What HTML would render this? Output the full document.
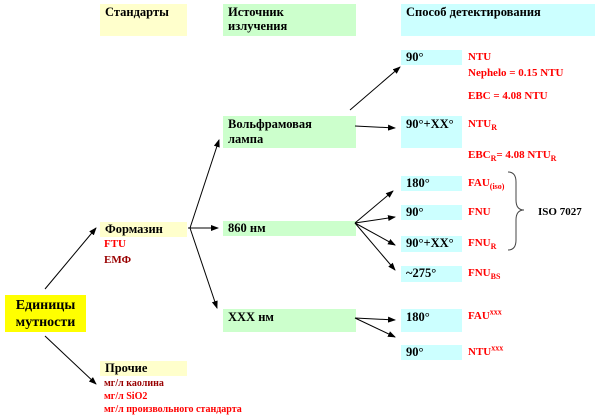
<!DOCTYPE html>
<html><head><meta charset="utf-8"><style>
*{font-family:"Liberation Serif","DejaVu Serif",serif;}
body{margin:0;width:600px;height:420px;background:#fff;position:relative;overflow:hidden;font-weight:bold;}
.b{position:absolute;box-sizing:border-box;padding:1px 5px;font-size:12.5px;color:#000;line-height:15px;white-space:nowrap}
.y{background:#ffffcc}.g{background:#ccffcc}.c{background:#ccffff}
.t{position:absolute;font-size:11px;color:#ff0000;line-height:13px;white-space:nowrap}
.d{color:#990000}
sub,sup{font-size:8px;line-height:0}
svg{position:absolute;left:0;top:0}
</style></head><body>
<div class="b y" style="left:100px;top:4px;width:87px;height:32px">Стандарты</div>
<div class="b g" style="left:223px;top:4px;width:133px;height:32px;line-height:14px">Источник<br>излучения</div>
<div class="b c" style="left:401px;top:4px;width:194px;height:32px">Способ детектирования</div>

<div class="b c" style="left:401px;top:50px;width:61px;height:15px;padding-top:0">90°</div>
<div class="t" style="left:468px;top:51px">NTU</div>
<div class="t" style="left:468px;top:67px">Nephelo = 0.15 NTU</div>
<div class="t" style="left:468px;top:90px">EBC = 4.08 NTU</div>

<div class="b g" style="left:223px;top:116px;width:133px;height:32px;line-height:15px">Вольфрамовая<br>лампа</div>
<div class="b c" style="left:401px;top:116px;width:61px;height:32px">90°+XX°</div>
<div class="t" style="left:468px;top:118px">NTU<sub>R</sub></div>
<div class="t" style="left:468px;top:149px">EBC<sub>R</sub>= 4.08 NTU<sub>R</sub></div>

<div class="b c" style="left:401px;top:176px;width:61px;height:15px;padding-top:0">180°</div>
<div class="t" style="left:468px;top:177px">FAU<sub>(iso)</sub></div>
<div class="b c" style="left:401px;top:205px;width:61px;height:15px;padding-top:0">90°</div>
<div class="t" style="left:468px;top:206px">FNU</div>
<div class="b c" style="left:401px;top:236px;width:61px;height:16px;padding-top:0">90°+XX°</div>
<div class="t" style="left:468px;top:237px">FNU<sub>R</sub></div>
<div class="b c" style="left:401px;top:266px;width:61px;height:16px;padding-top:0">~275°</div>
<div class="t" style="left:468px;top:267px">FNU<sub>BS</sub></div>
<div class="t" style="left:538px;top:206px;color:#000">ISO 7027</div>

<div class="b g" style="left:223px;top:221px;width:133px;height:15px;padding-top:0">860 нм</div>
<div class="b g" style="left:223px;top:309px;width:133px;height:23px">XXX нм</div>
<div class="b c" style="left:401px;top:309px;width:61px;height:23px">180°</div>
<div class="t" style="left:468px;top:310px">FAU<sup>xxx</sup></div>
<div class="b c" style="left:401px;top:345px;width:61px;height:15px;padding-top:0">90°</div>
<div class="t" style="left:468px;top:346px">NTU<sup>xxx</sup></div>

<div class="b y" style="left:100px;top:222px;width:87px;height:15px;padding-top:0">Формазин</div>
<div class="t" style="left:104px;top:238px">FTU</div>
<div class="t d" style="left:104px;top:254px">ЕМФ</div>

<div class="b" style="left:5px;top:295px;width:81px;height:37px;background:#ffff00;font-size:14px;line-height:17px;text-align:center;padding:2px 0">Единицы<br>мутности</div>

<div class="b y" style="left:100px;top:361px;width:87px;height:15px;padding-top:0">Прочие</div>
<div class="t d" style="left:104px;top:377px;font-size:10px">мг/л каолина</div>
<div class="t" style="left:104px;top:390px;font-size:10px">мг/л SiO2</div>
<div class="t" style="left:104px;top:403px;font-size:10px">мг/л произвольного стандарта</div>

<svg width="600" height="420">
<defs><marker id="a" markerWidth="8" markerHeight="6" refX="7" refY="3" orient="auto" markerUnits="userSpaceOnUse"><path d="M0,0L8,3L0,6z" fill="#000"/></marker></defs>
<g stroke="#000" stroke-width="1" fill="none" marker-end="url(#a)">
<line x1="45" y1="289" x2="96" y2="228"/>
<line x1="45" y1="336" x2="96" y2="384"/>
<line x1="188" y1="228" x2="218" y2="228"/>
<line x1="190" y1="228" x2="219" y2="140"/>
<line x1="190" y1="228" x2="217" y2="308"/>
<line x1="350" y1="110" x2="400" y2="67"/>
<line x1="355" y1="126" x2="395" y2="128"/>
<line x1="355" y1="223" x2="393" y2="191"/>
<line x1="355" y1="223" x2="395" y2="217"/>
<line x1="355" y1="223" x2="395" y2="245"/>
<line x1="355" y1="223" x2="395" y2="270"/>
<line x1="355" y1="318" x2="395" y2="320"/>
<line x1="355" y1="318" x2="395" y2="337"/>
</g>
<path d="M508,172 Q516,172 516,182 L516,200 Q516,210 524,210 Q516,210 516,220 L516,240 Q516,250 508,250" stroke="#444" fill="none"/>
</svg>
</body></html>
